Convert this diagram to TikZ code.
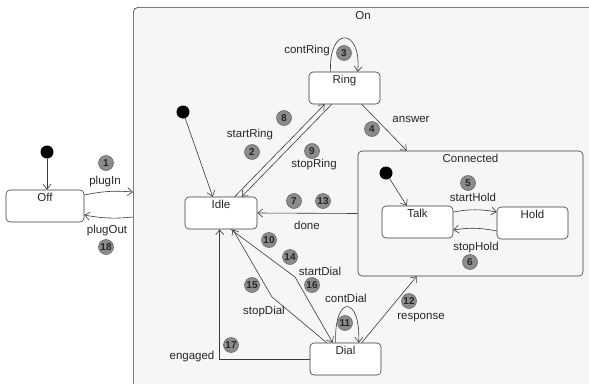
\documentclass[tikz,border=0pt]{standalone}
\usepackage{fontspec}
\setmainfont{Liberation Sans}
\usetikzlibrary{arrows.meta,calc}
\definecolor{ln}{HTML}{3A3A3A}
\definecolor{bubfill}{HTML}{8C8C8C}
\definecolor{bubdraw}{HTML}{5E5E5E}
\definecolor{bg}{HTML}{F6F6F6}
\begin{document}
\begin{tikzpicture}[x=1pt,y=-1pt,
  every node/.style={font=\fontsize{11.5}{13}\selectfont, text=black!85},
  st/.style={draw=ln, line width=0.6pt, rounded corners=4pt, fill=white, minimum height=32pt, inner sep=0pt},
  stlab/.style={anchor=north, inner sep=3pt},
  bub/.style={circle, fill=bubfill, draw=bubdraw, line width=0.5pt, inner sep=0pt, minimum size=15pt,
    font=\fontsize{10}{10}\selectfont\bfseries, text=black!85},
  lbl/.style={inner sep=1pt},
  dot/.style={circle, fill=black, inner sep=0pt, minimum size=13pt},
  tr/.style={draw=ln, line width=0.6pt, -{Straight Barb[length=5pt,width=8pt]}}
]
\useasboundingbox (0,0) rectangle (589,383);
\clip (0,0) rectangle (589,383);
\fill[white] (0,0) rectangle (589,383);
% On composite state
\node[draw=ln, line width=0.6pt, fill=bg, rounded corners=5pt, minimum width=520pt, minimum height=430pt,
  anchor=north west, inner sep=0pt] (on) at (133,7) {};
\node (onlab) at (363,16) {On};
% Connected composite state
\node[st, fill=bg, minimum width=225pt, minimum height=125pt, label={[stlab]north:Connected}] (conn) at (470.5,213.5) {};
% simple states
\node[st, minimum width=78pt, label={[stlab]north:Off}] (off) at (45,206) {};
\node[st, minimum width=72pt, label={[stlab]north:Idle}] (idle) at (221,213) {};
\node[st, minimum width=71pt, label={[stlab]north:Ring}] (ring) at (344.5,88) {};
\node[st, minimum width=71pt, label={[stlab]north:Dial}] (dial) at (345.5,359) {};
\node[st, minimum width=71pt, label={[stlab]north:Talk}] (talk) at (417.5,222) {};
\node[st, minimum width=71pt, label={[stlab]north:Hold}] (hold) at (532.5,223) {};
% initial pseudostates
\node[dot] (i0) at (47,152) {};
\node[dot] (i1) at (183,112) {};
\node[dot] (i2) at (386,173) {};
% transitions
\draw[tr] (i0) -- (i0 |- off.north);
\draw[tr] (i1) -- ($(idle.north west)+(28,0)$);
\draw[tr] (i2) -- ($(talk.north west)+(25,0)$);
\draw[tr] ($(off.east)+(0,-11)$) to[bend left=8] ($(on.north west)+(0,185)$);
\draw[tr] ($(on.north west)+(0,210)$) to[bend left=8] ($(off.east)+(0,9)$);
\draw[tr] ($(idle.north west)+(50,0)$) -- ($(ring.south west)+(16,0)$);
\draw[tr] ($(ring.south west)+(23,0)$) -- ($(idle.north west)+(57,0)$);
\draw[tr] ($(ring.north west)+(22,0)$) .. controls +(-3,-45) and +(4,-45) .. ($(ring.north west)+(49,0)$);
\draw[tr] ($(ring.south west)+(53,0)$) -- ($(conn.north west)+(49,0)$);
\draw[tr] (conn.west) -- (idle.east);
\draw[tr] ($(talk.east)+(0,-10)$) to[bend left=10] ($(hold.west)+(0,-11)$);
\draw[tr] ($(hold.west)+(0,8)$) to[bend right=10] ($(talk.east)+(0,8)$);
\draw[tr] ($(idle.south west)+(46,0)$) -- (295,277) -- ($(dial.north west)+(23,0)$);
\draw[tr] ($(dial.north west)+(17,0)$) -- (272,297) -- ($(idle.south west)+(48,0)$);
\draw[tr] ($(dial.north west)+(26,0)$) .. controls +(-2,-48) and +(2,-48) .. ($(dial.north west)+(49,0)$);
\draw[tr] ($(dial.north west)+(52,0)$) -- ($(conn.south west)+(59,0)$);
\draw[tr] (dial.west) -| ($(idle.south west)+(35,0)$);
% labels
\node[lbl] (lplugin) at (105,182) {plugIn};
\node[lbl] (lplugout) at (107,231) {plugOut};
\node[lbl] (lcontring) at (307,51) {contRing};
\node[lbl] (lstartring) at (250,135) {startRing};
\node[lbl] (lstopring) at (314,165) {stopRing};
\node[lbl] (lanswer) at (411,119) {answer};
\node[lbl] (ldone) at (307,225) {done};
\node[lbl] (lstarthold) at (473,197) {startHold};
\node[lbl] (lstophold) at (476,248) {stopHold};
\node[lbl] (lstartdial) at (320,271) {startDial};
\node[lbl] (lstopdial) at (264,312) {stopDial};
\node[lbl] (lcontdial) at (346,298) {contDial};
\node[lbl] (lresponse) at (421,318) {response};
\node[lbl] (lengaged) at (192,357) {engaged};
% number bubbles
\node[bub] (b1) at (106,163) {1};
\node[bub] (b2) at (252,152) {2};
\node[bub] (b3) at (344,53) {3};
\node[bub] (b4) at (372,129) {4};
\node[bub] (b5) at (468,183) {5};
\node[bub] (b6) at (470,262) {6};
\node[bub] (b7) at (294,201) {7};
\node[bub] (b8) at (284,118) {8};
\node[bub] (b9) at (312,151) {9};
\node[bub] (b10) at (269,240) {10};
\node[bub] (b11) at (345,323) {11};
\node[bub] (b12) at (409,301) {12};
\node[bub] (b13) at (323,201) {13};
\node[bub] (b14) at (290,257) {14};
\node[bub] (b15) at (252,285) {15};
\node[bub] (b16) at (312,285) {16};
\node[bub] (b17) at (231,345) {17};
\node[bub] (b18) at (106,247) {18};
\end{tikzpicture}
\end{document}
